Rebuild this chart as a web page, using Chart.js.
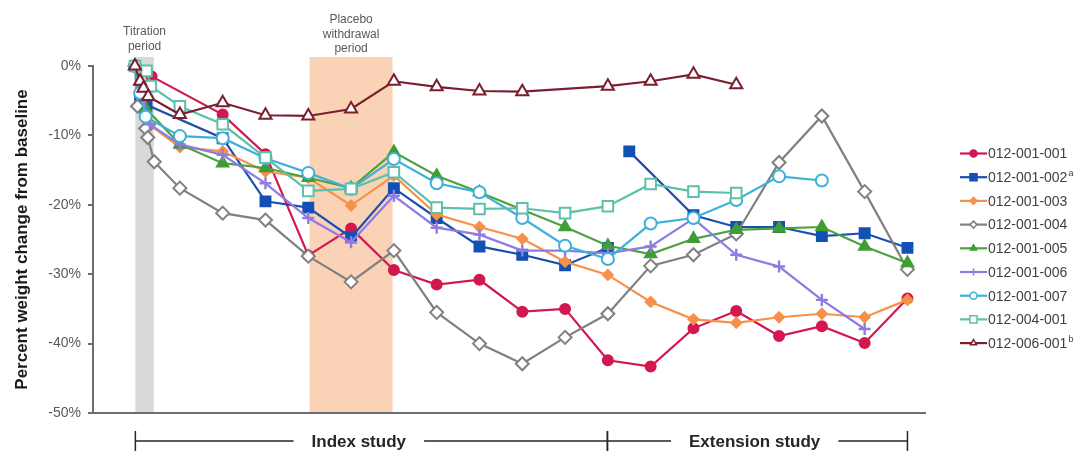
<!DOCTYPE html>
<html>
<head>
<meta charset="utf-8">
<script src="https://cdn.jsdelivr.net/npm/chart.js@4"></script>
<style>
  html, body { margin: 0; padding: 0; background: #fff; }
  #wrap { width: 1081px; height: 453px; }
</style>
</head>
<body>
<div id="wrap"><canvas id="weightChart" width="1081" height="453"></canvas></div>
<script>
// Subject IDs and footnote marks shown in the legend
const subjects = ['012-001-001', '012-001-002', '012-001-003', '012-001-004', '012-001-005',
                  '012-001-006', '012-001-007', '012-004-001', '012-006-001'];
const footnotes = ['', 'a', '', '', '', '', '', '', 'b'];

// Visit positions (titration visits fall between 0 and 0.4) and % weight change
const visits001 = [-0.05, 0.34, 2, 3, 4, 5, 6, 7, 8, 9, 10, 11, 12, 13, 14, 15, 16, 17, 18];
const change001 = [0, -1.5, -7.0, -12.7, -27.3, -23.4, -29.4, -31.5, -30.8, -35.4, -35.0, -42.4, -43.3, -37.8, -35.3, -38.9, -37.5, -39.9, -33.5];

const visits002 = [-0.05, 0.07, 0.22, 2, 3, 4, 5, 6, 7, 8, 9, 10, 11, 11.25, 11.5, 13, 14, 15, 16, 17, 18];
const change002 = [0, -4.5, -5.6, -10.4, -19.5, -20.4, -24.7, -17.6, -21.9, -26.0, -27.2, -28.7, -26.2, null, -12.3, -21.5, -23.2, -23.2, -24.5, -24.1, -26.2];

const visits003 = [-0.05, 0.3, 1, 2, 3, 4, 5, 6, 7, 8, 9, 10, 11, 12, 13, 14, 15, 16, 17, 18];
const change003 = [0, -8.5, -11.7, -12.3, -15.2, -16.1, -20.1, -15.8, -21.4, -23.2, -24.9, -28.2, -30.1, -34.0, -36.5, -37.0, -36.2, -35.7, -36.2, -33.7];

const visits004 = [-0.05, 0.01, 0.2, 0.25, 0.4, 1, 2, 3, 4, 5, 6, 7, 8, 9, 10, 11, 12, 13, 14, 15, 16, 17, 18];
const change004 = [0, -5.8, -9.0, -10.3, -13.8, -17.6, -21.2, -22.2, -27.4, -31.1, -26.6, -35.5, -40.0, -42.9, -39.1, -35.7, -28.8, -27.2, -24.2, -13.9, -7.2, -18.1, -29.3];

const visits005 = [-0.05, 0.2, 1, 2, 3, 4, 5, 6, 7, 8, 9, 10, 11, 12, 13, 14, 15, 16, 17, 18];
const change005 = [0, -6.1, -11.3, -14.0, -14.7, -16.1, -17.6, -12.4, -15.8, -18.2, -20.7, -23.2, -25.9, -27.1, -24.9, -23.6, -23.4, -23.2, -26.0, -28.4];

const visits006 = [-0.05, 0.3, 1, 2, 3, 4, 5, 6, 7, 8, 9, 10, 11, 12, 13, 14, 15, 16, 17];
const change006 = [0, -8.4, -11.3, -12.8, -16.9, -21.9, -25.4, -18.7, -23.3, -24.3, -26.6, -26.6, -27.0, -26.0, -22.0, -27.2, -28.9, -33.7, -37.9];

const visits007 = [-0.05, 0.07, 0.2, 1, 2, 3, 4, 5, 6, 7, 8, 9, 10, 11, 12, 13, 14, 15, 16];
const change007 = [0, -3.9, -7.3, -10.1, -10.4, -13.3, -15.4, -17.7, -13.4, -16.9, -18.2, -21.9, -25.9, -27.8, -22.7, -21.9, -19.3, -15.9, -16.5];

const visits401 = [-0.05, 0.22, 0.32, 1, 2, 3, 4, 5, 6, 7, 8, 9, 10, 11, 12, 13, 14];
const change401 = [0, -0.7, -2.9, -5.8, -8.4, -13.2, -18.0, -17.7, -15.3, -20.4, -20.6, -20.5, -21.2, -20.2, -17.0, -18.1, -18.3];

const visits601 = [-0.05, 0.07, 0.15, 0.26, 1, 2, 3, 4, 5, 6, 7, 8, 9, 11, 12, 13, 14];
const change601 = [0, -2.2, -3.2, -4.4, -7.0, -5.3, -7.1, -7.2, -6.2, -2.2, -3.0, -3.6, -3.7, -2.9, -2.2, -1.2, -2.7];

const yTicks = [0, -10, -20, -30, -40, -50];

// Shaded periods (in visit units) and study brackets with their label anchors
const titrationPeriod = [-0.04, 0.39];
const withdrawalPeriod = [4.03, 5.97];
const indexStudy = { from: -0.04, to: 10.99, labelAt: 5.18, text: 'Index study' };
const extensionStudy = { from: 10.99, to: 18, labelAt: 14.43, text: 'Extension study' };

const FONT = 'Arial, "Liberation Sans", sans-serif';

const seriesStyle = [
    { color: '#D2184F', fill: '#D2184F', shape: 'circle', r: 5 },
    { color: '#1A50AC', fill: '#1250B4', shape: 'rect', r: 7 },
    { color: '#F6914A', fill: '#F6914A', shape: 'rectRot', r: 5 },
    { color: '#808080', fill: '#ffffff', shape: 'rectRot', r: 6.5 },
    { color: '#4DA23F', fill: '#3F9D35', shape: 'triangle', r: 6.5 },
    { color: '#8E7CE3', fill: '#8E7CE3', shape: 'cross', r: 6 },
    { color: '#3FB0D9', fill: '#ffffff', shape: 'circle', r: 6 },
    { color: '#5EBFAA', fill: '#ffffff', shape: 'rect', r: 7.5 },
    { color: '#7A1F2F', fill: '#ffffff', shape: 'triangle', r: 7 }
];

const seriesData = [
    [visits001, change001], [visits002, change002], [visits003, change003],
    [visits004, change004], [visits005, change005], [visits006, change006],
    [visits007, change007], [visits401, change401], [visits601, change601]
];

const datasets = seriesData.map(([xs, ys], i) => {
    const s = seriesStyle[i];
    return {
        label: subjects[i],
        data: xs.map((x, k) => ({ x: x, y: ys[k] })),
        borderColor: s.color,
        backgroundColor: s.fill,
        borderWidth: 2.2,
        pointStyle: s.shape,
        pointRadius: s.r,
        pointBorderColor: s.shape === 'cross' ? s.color : (s.fill === '#ffffff' ? s.color : s.fill),
        pointBackgroundColor: s.fill,
        pointBorderWidth: s.shape === 'cross' ? 2.4 : 2,
        tension: 0,
        clip: false,
        // later subjects sit on top
        order: subjects.length - i
    };
});

// Grey titration band and peach placebo-withdrawal band behind everything
const periodBands = {
    id: 'periodBands',
    beforeDraw(chart) {
        const { ctx, scales: { x, y } } = chart;
        const top = y.getPixelForValue(1.3);
        const bottom = y.getPixelForValue(-50);
        ctx.save();
        [[titrationPeriod, '#D9D9D9'], [withdrawalPeriod, '#FAD3B6']].forEach(([band, color]) => {
            const x0 = x.getPixelForValue(band[0]);
            const x1 = x.getPixelForValue(band[1]);
            ctx.fillStyle = color;
            ctx.fillRect(x0, top, x1 - x0, bottom - top);
        });
        ctx.restore();
    }
};

function drawMarker(ctx, s, cx, cy, r) {
    ctx.save();
    ctx.fillStyle = s.fill;
    ctx.strokeStyle = s.fill === '#ffffff' || s.shape === 'cross' ? s.color : s.fill;
    ctx.lineWidth = 1.5;
    ctx.beginPath();
    if (s.shape === 'circle') {
        ctx.arc(cx, cy, r, 0, Math.PI * 2);
    } else if (s.shape === 'rect') {
        const h = r * Math.SQRT1_2;
        ctx.rect(cx - h, cy - h, 2 * h, 2 * h);
    } else if (s.shape === 'rectRot') {
        ctx.moveTo(cx, cy - r); ctx.lineTo(cx + r, cy); ctx.lineTo(cx, cy + r); ctx.lineTo(cx - r, cy);
        ctx.closePath();
    } else if (s.shape === 'triangle') {
        ctx.moveTo(cx, cy - r);
        ctx.lineTo(cx + r * 0.866, cy + r * 0.5);
        ctx.lineTo(cx - r * 0.866, cy + r * 0.5);
        ctx.closePath();
    } else if (s.shape === 'cross') {
        ctx.moveTo(cx - r, cy); ctx.lineTo(cx + r, cy);
        ctx.moveTo(cx, cy - r); ctx.lineTo(cx, cy + r);
        ctx.stroke();
        ctx.restore();
        return;
    }
    ctx.fill();
    ctx.stroke();
    ctx.restore();
}

// Period captions, study brackets under the axis and the subject legend
const chartDecor = {
    id: 'chartDecor',
    afterDraw(chart) {
        const { ctx, scales: { x } } = chart;
        ctx.save();

        // captions above the shaded periods
        ctx.fillStyle = '#595959';
        ctx.font = '12px ' + FONT;
        ctx.textAlign = 'center';
        ctx.textBaseline = 'middle';
        const tx = (x.getPixelForValue(titrationPeriod[0]) + x.getPixelForValue(titrationPeriod[1])) / 2;
        ['Titration', 'period'].forEach((t, k) => ctx.fillText(t, tx, 32 + k * 15));
        const wx = (x.getPixelForValue(withdrawalPeriod[0]) + x.getPixelForValue(withdrawalPeriod[1])) / 2;
        ['Placebo', 'withdrawal', 'period'].forEach((t, k) => ctx.fillText(t, wx, 20 + k * 14.5));

        // study brackets
        const by = 441;
        ctx.strokeStyle = '#262626';
        ctx.lineWidth = 1.5;
        ctx.font = 'bold 17px ' + FONT;
        ctx.fillStyle = '#262626';
        [indexStudy, extensionStudy].forEach((st) => {
            const x0 = x.getPixelForValue(st.from);
            const x1 = x.getPixelForValue(st.to);
            const mid = x.getPixelForValue(st.labelAt);
            const half = ctx.measureText(st.text).width / 2 + 18;
            ctx.beginPath();
            ctx.moveTo(x0, by); ctx.lineTo(mid - half, by);
            ctx.moveTo(mid + half, by); ctx.lineTo(x1, by);
            ctx.moveTo(x0, by - 10); ctx.lineTo(x0, by + 10);
            ctx.moveTo(x1, by - 10); ctx.lineTo(x1, by + 10);
            ctx.stroke();
            ctx.fillText(st.text, mid, by + 1);
        });

        // legend
        ctx.textAlign = 'left';
        subjects.forEach((name, i) => {
            const s = seriesStyle[i];
            const ly = 153.5 + i * 23.7;
            ctx.strokeStyle = s.color;
            ctx.lineWidth = 2.2;
            ctx.beginPath();
            ctx.moveTo(960, ly); ctx.lineTo(987, ly);
            ctx.stroke();
            drawMarker(ctx, s, 973.5, ly, s.shape === 'rect' ? 5 : 3.5);
            ctx.fillStyle = '#404040';
            ctx.font = '14px ' + FONT;
            ctx.fillText(name, 988, ly + 1);
            if (footnotes[i]) {
                const w = ctx.measureText(name).width;
                ctx.font = '9px ' + FONT;
                ctx.fillText(footnotes[i], 988 + w + 1, ly - 4);
            }
        });
        ctx.restore();
    }
};

new Chart(document.getElementById('weightChart'), {
    type: 'line',
    data: { datasets: datasets },
    options: {
        responsive: false,
        animation: false,
        devicePixelRatio: 1,
        layout: { padding: { top: 66, right: 156, bottom: 40, left: 0 } },
        plugins: {
            legend: { display: false },
            tooltip: { enabled: false }
        },
        scales: {
            x: {
                type: 'linear',
                min: -1.03,
                max: 18.41,
                ticks: { display: false },
                grid: { display: false, drawTicks: false },
                border: { display: true, color: '#6e6e6e', width: 2 }
            },
            y: {
                min: -50,
                max: 0,
                afterBuildTicks: (scale) => { scale.ticks = yTicks.map(v => ({ value: v })); },
                afterFit: (scale) => { scale.width = 93; },
                ticks: {
                    callback: (v) => v + '%',
                    color: '#595959',
                    font: { family: FONT, size: 14 },
                    padding: 7
                },
                grid: { drawOnChartArea: false, drawTicks: true, tickLength: 5, color: '#6e6e6e', lineWidth: 2 },
                border: { display: true, color: '#6e6e6e', width: 2 },
                title: {
                    display: true,
                    text: 'Percent weight change from baseline',
                    color: '#1a1a1a',
                    font: { family: FONT, size: 17, weight: 'bold' },
                    padding: { top: 12, bottom: 0 }
                }
            }
        }
    },
    plugins: [periodBands, chartDecor]
});
</script>
</body>
</html>
